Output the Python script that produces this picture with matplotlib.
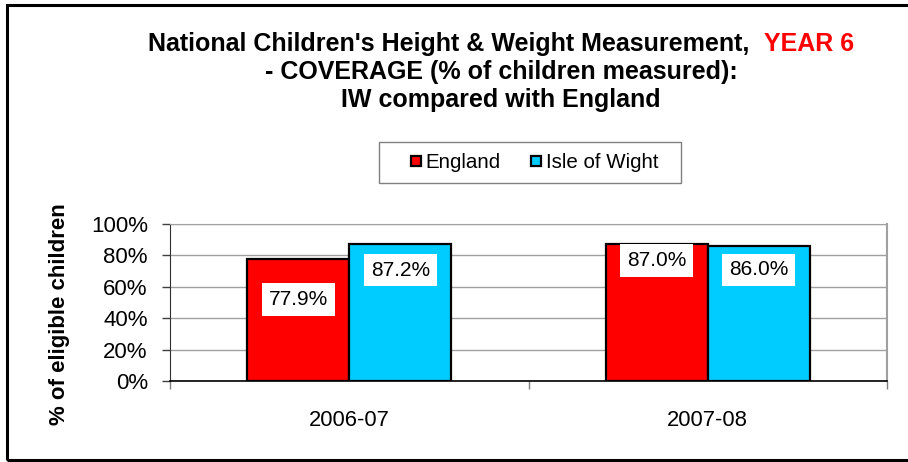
import matplotlib
matplotlib.use("Agg")
import matplotlib.pyplot as plt
from matplotlib.lines import Line2D
from matplotlib.patches import Rectangle
import numpy as np

plt.rcParams['font.family'] = ['Liberation Sans', 'DejaVu Sans']

categories = ["2006-07", "2007-08"]
england = [77.9, 87.0]
iow = [87.2, 86.0]
series_names = ["England", "Isle of Wight"]
yticks = [0, 20, 40, 60, 80, 100]
ytick_labels = ["0%", "20%", "40%", "60%", "80%", "100%"]

red = "#FF0000"
cyan = "#00CCFF"

W, H = 908, 462
fig = plt.figure(figsize=(W / 100, H / 100), dpi=100)

# outer border
fig.patches.append(Rectangle((7 / W, 2 / H), 1.0, 455 / H, transform=fig.transFigure,
                             fill=False, edgecolor="black", linewidth=2.2, clip_on=False))

ax = fig.add_axes([170 / W, 81 / H, 717 / W, 157 / H])
x = np.arange(len(categories))
bw = 0.285
b1 = ax.bar(x - bw / 2, england, bw, color=red, edgecolor="black", linewidth=1.6, zorder=3)
b2 = ax.bar(x + bw / 2, iow, bw, color=cyan, edgecolor="black", linewidth=1.6, zorder=3)

ax.set_xlim(-0.5, len(categories) - 0.5)
ax.set_ylim(0, 100)
ax.set_yticks(yticks)
ax.set_yticklabels(ytick_labels, fontsize=16)
ax.yaxis.grid(True, color="#A0A0A0", linewidth=1.0, zorder=0)
ax.set_axisbelow(True)
ax.set_xticks(x)
ax.set_xticklabels(categories, fontsize=15.8)
ax.tick_params(axis="x", which="major", length=0, pad=21)
ax.set_xticks(np.arange(len(categories) + 1) - 0.5, minor=True)
ax.tick_params(axis="x", which="minor", length=6, color="#808080", width=1)
ax.tick_params(axis="y", length=6, color="#404040", width=1, pad=10)
ax.spines["top"].set_color("#A0A0A0")
ax.spines["right"].set_color("#A0A0A0")
ax.spines["right"].set_linewidth(1.5)
ax.spines["left"].set_color("#303030")
ax.spines["bottom"].set_color("black")
ax.spines["bottom"].set_linewidth(1.2)

ax.set_ylabel("% of eligible children", fontsize=16, fontweight="bold")
ax.yaxis.set_label_coords((60 - 170) / 717, (381 - 314) / 157)
ax.yaxis.label.set_va("center")

# data labels
eng_off = [41, 16]
iow_off = [26, 24]
for bars, vals, offs in ((b1, england, eng_off), (b2, iow, iow_off)):
    for b, v, o in zip(bars, vals, offs):
        ax.annotate(f"{v:.1f}%", (b.get_x() + b.get_width() / 2, v),
                    xytext=(0, -o * 0.72), textcoords="offset points",
                    ha="center", va="center", fontsize=15, zorder=5,
                    bbox=dict(facecolor="white", edgecolor="none", pad=5))

# legend (frame drawn separately for Excel-like padding)
fig.patches.append(Rectangle((379 / W, 1 - 183 / H), 302 / W, 41 / H, transform=fig.transFigure,
                             facecolor="white", edgecolor="#808080", linewidth=1.0))
handles = [Line2D([], [], marker="s", linestyle="none", markersize=7.8,
                  markerfacecolor=c, markeredgecolor="black", markeredgewidth=1.6)
           for c in (red, cyan)]
leg = fig.legend(handles, series_names, loc="center", bbox_to_anchor=(533 / W, 1 - 162.5 / H),
                 ncol=2, fontsize=14.8, frameon=False,
                 handlelength=0.8, handletextpad=0.1,
                 columnspacing=1.3, borderpad=0.3, borderaxespad=0)

# title
fs = 18
line1_black = "National Children's Height & Weight Measurement,  "
line1_red = "YEAR 6"
fig.canvas.draw()
r = fig.canvas.get_renderer()
t1 = fig.text(0, 0, line1_black, fontsize=fs, fontweight="bold")
t2 = fig.text(0, 0, line1_red, fontsize=fs, fontweight="bold", color=red)
w1 = t1.get_window_extent(r).width
w2 = t2.get_window_extent(r).width
cx = 501
start = cx - (w1 + w2) / 2
y1 = 1 - 44 / H
t1.set_position((start / W, y1))
t1.set_va("center")
t2.set_position(((start + w1) / W, y1))
t2.set_va("center")
fig.text(cx / W, 1 - 72 / H, "- COVERAGE (% of children measured):", fontsize=fs,
         fontweight="bold", ha="center", va="center")
fig.text(cx / W, 1 - 100 / H, "IW compared with England", fontsize=fs,
         fontweight="bold", ha="center", va="center")

fig.savefig("out.png", dpi=100)
